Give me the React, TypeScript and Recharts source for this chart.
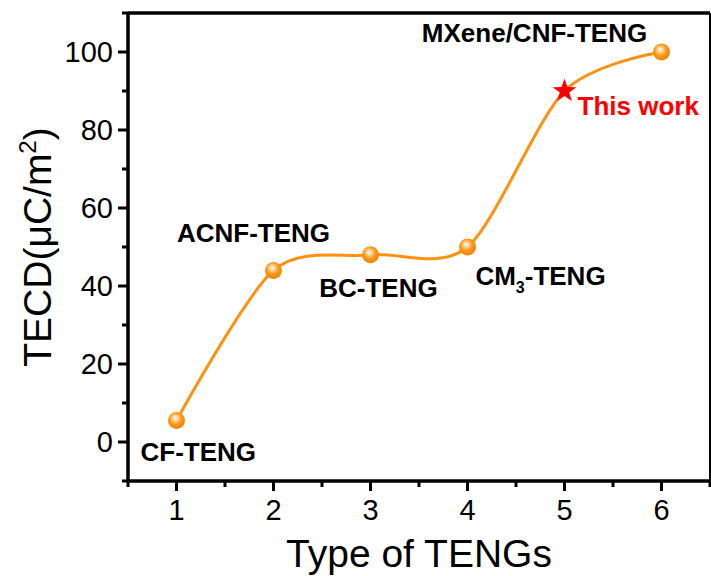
import React from 'react';
import { LineChart, Line, XAxis, YAxis, ReferenceLine, LabelList, Label } from 'recharts';

const types = [1, 2, 3, 4, 5, 6];
const tecd = [5.5, 44, 48, 50, 90, 100];
const names = ['CF-TENG', 'ACNF-TENG', 'BC-TENG', 'CM3-TENG', 'This work', 'MXene/CNF-TENG'];
const xTicks = [0.5, 1, 1.5, 2, 2.5, 3, 3.5, 4, 4.5, 5, 5.5, 6, 6.5];
const yTicks = [-10, 0, 10, 20, 30, 40, 50, 60, 70, 80, 90, 100, 110];

const data = types.map((t, i) => ({ t, v: tecd[i], name: names[i] }));

const FONT = '"Liberation Sans", Arial, sans-serif';
const ORANGE = '#FF9010';

// label placement styles (offsets from the point), index-aligned
const labelStyle = [
  { dx: -36, dy: 40, anchor: 'start', color: '#000' },
  { dx: -20, dy: -28, anchor: 'middle', color: '#000' },
  { dx: 8, dy: 42, anchor: 'middle', color: '#000' },
  { dx: 73, dy: 38, anchor: 'middle', color: '#000' },
  { dx: 13, dy: 24, anchor: 'start', color: '#FF0000' },
  { dx: -127, dy: -10, anchor: 'middle', color: '#000' },
];

// cardinal spline curve factory (port of d3-shape curveCardinal)
function cardPoint(that: any, x: number, y: number) {
  that._context.bezierCurveTo(
    that._x1 + that._k * (that._x2 - that._x0),
    that._y1 + that._k * (that._y2 - that._y0),
    that._x2 + that._k * (that._x1 - x),
    that._y2 + that._k * (that._y1 - y),
    that._x2,
    that._y2
  );
}
class Cardinal {
  _context: any; _k: number; _line: number = NaN; _point = 0;
  _x0 = NaN; _x1 = NaN; _x2 = NaN; _y0 = NaN; _y1 = NaN; _y2 = NaN;
  constructor(context: any, tension: number) { this._context = context; this._k = (1 - tension) / 6; }
  areaStart() { this._line = 0; }
  areaEnd() { this._line = NaN; }
  lineStart() {
    this._x0 = this._x1 = this._x2 = this._y0 = this._y1 = this._y2 = NaN;
    this._point = 0;
  }
  lineEnd() {
    switch (this._point) {
      case 2: this._context.lineTo(this._x2, this._y2); break;
      case 3: cardPoint(this, this._x1, this._y1); break;
    }
    if (this._line || (this._line !== 0 && this._point === 1)) this._context.closePath();
    this._line = 1 - this._line;
  }
  point(x: number, y: number) {
    x = +x; y = +y;
    switch (this._point) {
      case 0: this._point = 1; this._line ? this._context.lineTo(x, y) : this._context.moveTo(x, y); break;
      case 1: this._point = 2; this._x1 = x; this._y1 = y; break;
      case 2: this._point = 3; cardPoint(this, x, y); break;
      default: cardPoint(this, x, y); break;
    }
    this._x0 = this._x1; this._x1 = this._x2; this._x2 = x;
    this._y0 = this._y1; this._y1 = this._y2; this._y2 = y;
  }
}
const curveSpline = (context: any) => new Cardinal(context, 0.15);

const XTick = (props: any) => {
  const { x, y, payload } = props;
  const v = payload.value;
  const major = Number.isInteger(v) && v >= 1 && v <= 6;
  return (
    <g>
      <rect x={x - 1.5} y={y} width={3} height={major ? 10 : 6} fill="#000" />
      {major && (
        <text x={x} y={y + 39} textAnchor="middle" fontSize={29} fontFamily={FONT} fill="#000">
          {v}
        </text>
      )}
    </g>
  );
};

const YTick = (props: any) => {
  const { x, y, payload } = props;
  const v = payload.value;
  const major = v % 20 === 0 && v >= 0 && v <= 100;
  return (
    <g>
      <rect x={x - (major ? 10 : 6)} y={y - 1.5} width={major ? 10 : 6} height={3} fill="#000" />
      {major && (
        <text x={x - 15} y={y} dy="0.36em" textAnchor="end" fontSize={29} fontFamily={FONT} fill="#000">
          {v}
        </text>
      )}
    </g>
  );
};

const renderDot = (props: any) => {
  const { cx, cy, index } = props;
  if (index === 4) {
    const pts: string[] = [];
    for (let k = 0; k < 10; k++) {
      const r = k % 2 === 0 ? 12.5 : 5;
      const a = -Math.PI / 2 + (k * Math.PI) / 5;
      pts.push(`${cx + r * Math.cos(a)},${cy + r * Math.sin(a)}`);
    }
    return <polygon key={`d${index}`} points={pts.join(' ')} fill="#FF0000" />;
  }
  return <circle key={`d${index}`} cx={cx} cy={cy} r={8.5} fill="url(#ball)" />;
};

const renderLabel = (props: any) => {
  const { x, y, index, value } = props;
  const s = labelStyle[index];
  if (value === 'CM3-TENG') {
    return (
      <text x={x + s.dx} y={y + s.dy} textAnchor={s.anchor} fontSize={26} fontWeight="bold" fontFamily={FONT} fill={s.color}>
        CM
        <tspan fontSize={16} dy={8}>3</tspan>
        <tspan dy={-8}>-TENG</tspan>
      </text>
    );
  }
  return (
    <text x={x + s.dx} y={y + s.dy} textAnchor={s.anchor} fontSize={26} fontWeight="bold" fontFamily={FONT} fill={s.color}>
      {value}
    </text>
  );
};

const YTitle = (props: any) => {
  const { viewBox } = props;
  const cx = viewBox.x + 51;
  const cy = viewBox.y + viewBox.height / 2;
  return (
    <text x={cx} y={cy} transform={`rotate(-90 ${cx} ${cy})`} textAnchor="middle" fontSize={39} fontFamily={FONT} fill="#000">
      TECD(μC/m<tspan fontSize={24} dy={-15}>2</tspan>
      <tspan dy={15}>)</tspan>
    </text>
  );
};

const XTitle = (props: any) => {
  const { viewBox } = props;
  const cx = viewBox.x + viewBox.width / 2;
  return (
    <text x={cx} y={567} textAnchor="middle" fontSize={39} fontFamily={FONT} fill="#000">
      Type of TENGs
    </text>
  );
};

export default function App() {
  return (
    <div style={{ position: 'absolute', left: 0, top: 0, width: 711, height: 576, background: '#fff' }}>
      <LineChart width={711} height={576} data={data} margin={{ top: 13, right: 1, left: 0, bottom: 0 }}>
        <defs>
          <radialGradient id="ball" cx="45%" cy="40%" r="60%" fx="42%" fy="35%">
            <stop offset="0%" stopColor="#FFFFFF" />
            <stop offset="22%" stopColor="#FFD9A8" />
            <stop offset="55%" stopColor="#FF9A1E" />
            <stop offset="100%" stopColor="#E98300" />
          </radialGradient>
        </defs>
        <XAxis
          dataKey="t"
          type="number"
          domain={[0.5, 6.5]}
          ticks={xTicks}
          interval={0}
          height={95}
          tickSize={0}
          tickMargin={0}
          tickLine={false}
          tick={<XTick />}
          axisLine={false}
        >
          <Label content={<XTitle />} />
        </XAxis>
        <YAxis
          type="number"
          domain={[-10, 110]}
          ticks={yTicks}
          interval={0}
          width={128}
          tickSize={0}
          tickMargin={0}
          tickLine={false}
          tick={<YTick />}
          axisLine={false}
          allowDataOverflow
        >
          <Label content={<YTitle />} />
        </YAxis>
        <ReferenceLine y={110} stroke="#000" strokeWidth={3.5} ifOverflow="visible" style={{ strokeWidth: 3.5 }} />
        <ReferenceLine y={-10} stroke="#000" strokeWidth={3.5} ifOverflow="visible" style={{ strokeWidth: 3.5 }} />
        <ReferenceLine x={0.5} stroke="#000" strokeWidth={3.5} ifOverflow="visible" style={{ strokeWidth: 3.5 }} />
        <ReferenceLine x={6.5} stroke="#000" strokeWidth={2} ifOverflow="visible" style={{ strokeWidth: 2 }} />
        <Line
          type={curveSpline as any}
          dataKey="v"
          stroke={ORANGE}
          strokeWidth={3}
          dot={renderDot}
          activeDot={false}
          isAnimationActive={false}
        >
          <LabelList dataKey="name" content={renderLabel} />
        </Line>
      </LineChart>
    </div>
  );
}
